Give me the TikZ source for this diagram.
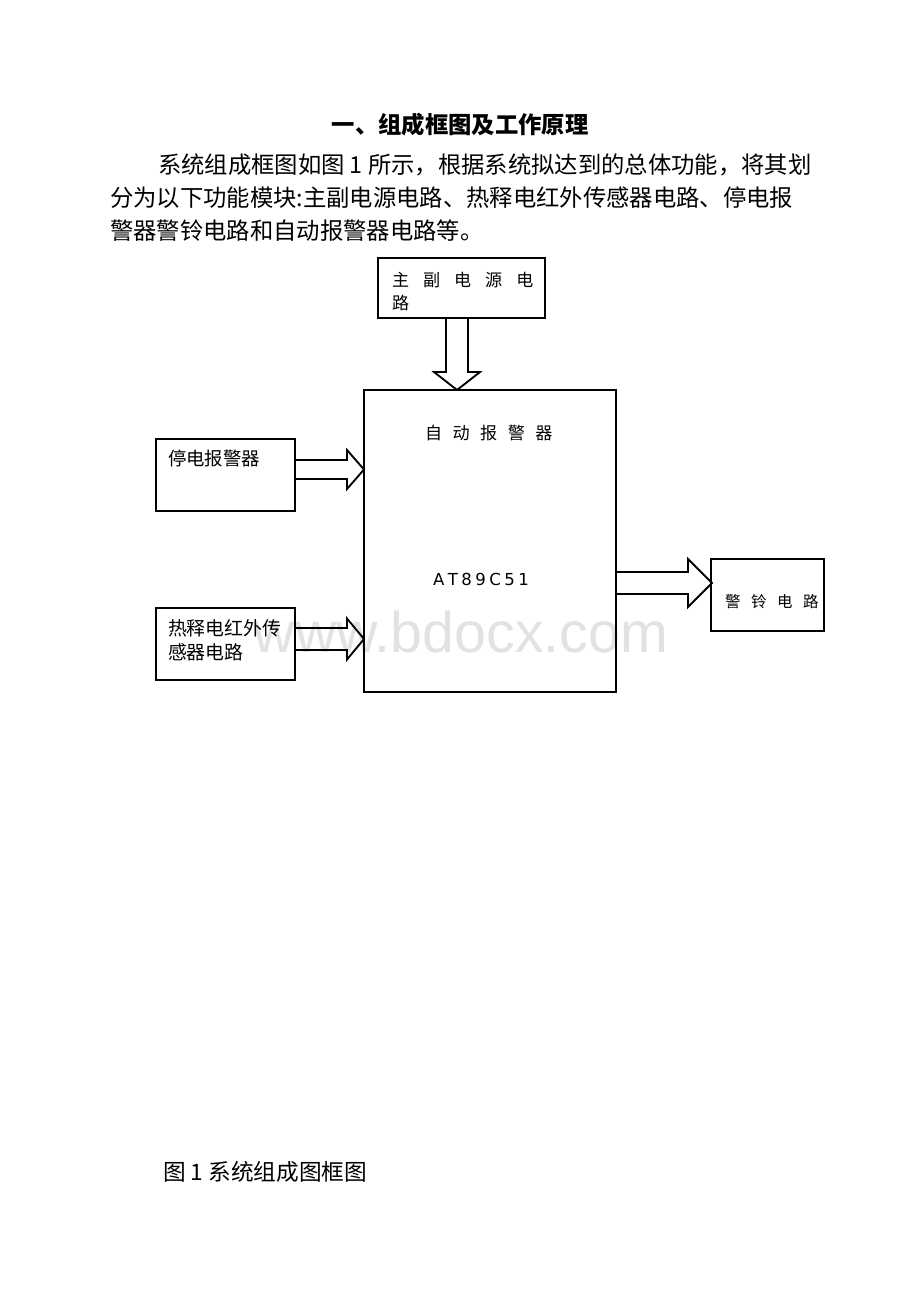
\documentclass[tikz,border=0pt]{standalone}
\usepackage{fontspec}
\usetikzlibrary{fit}
\setmainfont{Liberation Serif}
\newfontfamily\cjk{Noto Sans CJK SC}
\newfontfamily\latinsans{DejaVu Sans}
\newfontfamily\wmfont{Liberation Sans}
\definecolor{wmgray}{RGB}{226,226,226}
\tikzset{
  blk/.style={draw=black, line width=1.4pt, inner sep=0pt},
  hollow/.style={draw=black, line width=1.4pt, line join=miter},
  lbl/.style={inner sep=0pt, outer sep=0pt, anchor=west},
  body/.style={inner sep=0pt, outer sep=0pt, anchor=west, font=\cjk\fontsize{17.5pt}{21pt}\selectfont},
}
\newcommand\rarrowshape[5]{%
  \draw[hollow] (#1) ++(0,-#3) -- ++(#2,0) -- ++(0,#3-#4) -- ++(#5,#4) -- ++(-#5,#4) -- ++(0,#3-#4) -- ++(-#2,0);}
\begin{document}
\begin{tikzpicture}[x=0.75pt,y=-0.75pt]
\useasboundingbox (0,0) rectangle (920,1302);
\fill[white] (0,0) rectangle (920,1302);

% watermark
\node[inner sep=0pt, anchor=base, font=\wmfont\fontsize{43pt}{43pt}\selectfont, text=wmgray] (wm) at (461,652) {www.bdocx.com};

% heading and paragraph
\node[body, anchor=center, font=\cjk\bfseries\fontsize{17.5pt}{21pt}\selectfont] (title) at (460,125) {一、组成框图及工作原理};
\node[body] (p1) at (158,165) {系统组成框图如图 1 所示，根据系统拟达到的总体功能，将其划};
\node[body] (p2) at (110,198) {分为以下功能模块:主副电源电路、热释电红外传感器电路、停电报};
\node[body] (p3) at (110,231) {警器警铃电路和自动报警器电路等。};

% boxes
\node[blk, fit={(378,258) (545,318)}] (psu) {};
\node[blk, fit={(364,390) (616,692)}] (mcu) {};
\node[blk, fit={(156,439) (295,511)}] (td) {};
\node[blk, fit={(156,608) (295,680)}] (ir) {};
\node[blk, fit={(711,559) (824,631)}] (bell) {};

% box texts
\node[lbl, font=\cjk\fontsize{12.8pt}{15pt}\selectfont] (psut1) at (392,280) {主\hspace{10.5pt}副\hspace{10.5pt}电\hspace{10.5pt}源\hspace{10.5pt}电};
\node[lbl, font=\cjk\fontsize{12.8pt}{15pt}\selectfont] (psut2) at (392,303) {路};
\node[lbl, font=\cjk\fontsize{12.8pt}{15pt}\selectfont] (mcut1) at (425,433) {自\hspace{7.9pt}动\hspace{7.9pt}报\hspace{7.9pt}警\hspace{7.9pt}器};
\node[lbl, font=\latinsans\fontsize{12.4pt}{15pt}\selectfont] (mcut2) at (433,579) {A\hspace{2.6pt}T\hspace{2.6pt}8\hspace{2.6pt}9\hspace{2.6pt}C\hspace{2.6pt}5\hspace{2.6pt}1};
\node[lbl, font=\cjk\fontsize{13.8pt}{16pt}\selectfont] (tdt) at (168,458) {停电报警器};
\node[lbl, font=\cjk\fontsize{14.2pt}{16pt}\selectfont] (irt1) at (168,628) {热释电红外传};
\node[lbl, font=\cjk\fontsize{14.2pt}{16pt}\selectfont] (irt2) at (168,652) {感器电路};
\node[lbl, font=\cjk\fontsize{11.6pt}{14pt}\selectfont] (bellt) at (725,602) {警\hspace{7.9pt}铃\hspace{7.9pt}电\hspace{7.9pt}路};

% hollow arrows
\coordinate (dstart) at (446,318);
\draw[hollow] (dstart) -- ++(0,54) -- ++(-12,0) -- ++(23,18) -- ++(23,-18) -- ++(-12,0) -- ++(0,-54);
\coordinate (a1) at (295,469.5);
\rarrowshape{a1}{52}{9.5}{19.5}{17}
\coordinate (a2) at (295,639);
\rarrowshape{a2}{52}{11}{20.5}{17}
\coordinate (a3) at (616,583);
\rarrowshape{a3}{72}{11}{24}{24}

% caption
\node[body, font=\cjk\fontsize{17pt}{20pt}\selectfont] (cap) at (163,1172) {图 1 系统组成图框图};
\end{tikzpicture}
\end{document}
